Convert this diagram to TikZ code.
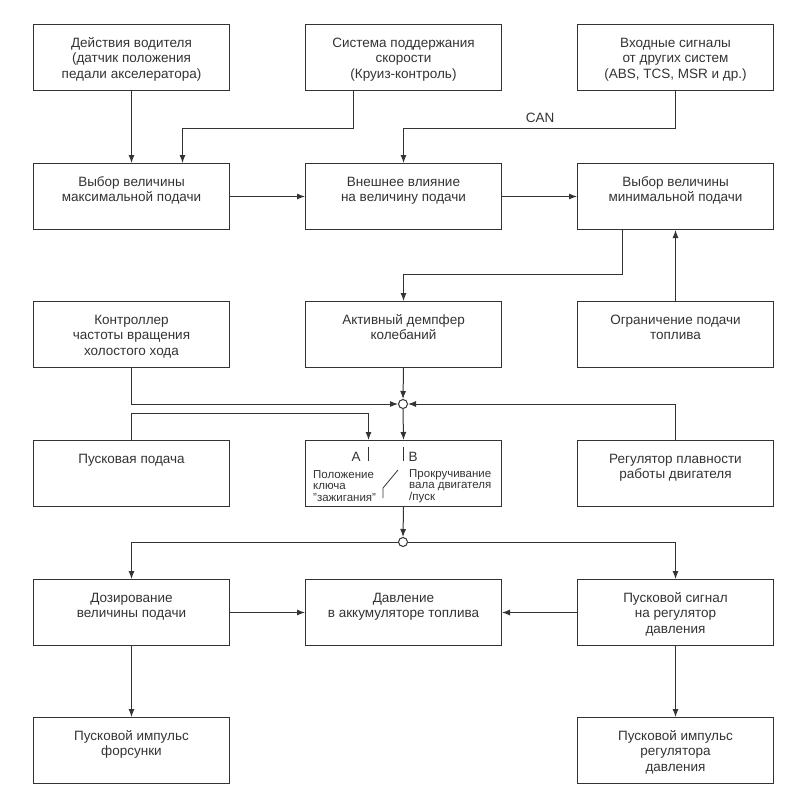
\documentclass[tikz,border=0pt]{standalone}
\usepackage{fontspec}
\setmainfont{Liberation Sans}
\usetikzlibrary{arrows.meta}
\definecolor{ink}{HTML}{333333}
\newcommand\bxtext[1]{\parbox[c][66pt][t]{196pt}{\centering\fontsize{13.5}{15.5}\selectfont\vspace*{12pt}\strut #1\par}}
\tikzset{
  box/.style={draw=ink, text=ink, line width=1pt, anchor=north west, inner sep=0pt, minimum width=196pt, minimum height=66pt},
  arr/.style={draw=ink, line width=1pt, -{Latex[length=8pt,width=6pt]}},
  ln/.style={draw=ink, line width=1pt},
  thin/.style={draw=ink, line width=0.8pt},
  junc/.style={circle, draw=ink, fill=white, line width=1pt, inner sep=0pt, minimum size=9pt},
  swl/.style={text=ink, anchor=west, align=left, inner sep=0pt, font=\fontsize{11.5}{11.5}\selectfont},
  lbl/.style={text=ink, inner sep=0pt, font=\fontsize{13.5}{15.5}\selectfont}
}
\begin{document}
\begin{tikzpicture}[x=1pt,y=-1pt]
\useasboundingbox (0,0) rectangle (794,808);
% row 1
\node[box] (b1) at (33,24) {\bxtext{Действия водителя\\(датчик положения\\педали акселератора)}};
\node[box] (b2) at (305,24) {\bxtext{Система поддержания\\скорости\\(Круиз-контроль)}};
\node[box] (b3) at (577,24) {\bxtext{Входные сигналы\\от других систем\\(ABS, TCS, MSR и др.)}};
% row 2
\node[box] (b4) at (33,163) {\bxtext{Выбор величины\\максимальной подачи}};
\node[box] (b5) at (305,163) {\bxtext{Внешнее влияние\\на величину подачи}};
\node[box] (b6) at (577,163) {\bxtext{Выбор величины\\минимальной подачи}};
% row 3
\node[box] (b7) at (33,301) {\bxtext{Контроллер\\частоты вращения\\холостого хода}};
\node[box] (b8) at (305,301) {\bxtext{Активный демпфер\\колебаний}};
\node[box] (b9) at (577,301) {\bxtext{Ограничение подачи\\топлива}};
% row 4
\node[box] (b10) at (33,440) {\bxtext{Пусковая подача}};
\node[box] (sw) at (305,440) {};
\node[box] (b11) at (577,440) {\bxtext{Регулятор плавности\\работы двигателя}};
% row 5
\node[box] (b12) at (33,579) {\bxtext{Дозирование\\величины подачи}};
\node[box] (b13) at (305,579) {\bxtext{Давление\\в аккумуляторе топлива}};
\node[box] (b14) at (577,579) {\bxtext{Пусковой сигнал\\на регулятор\\давления}};
% row 6
\node[box] (b15) at (33,717) {\bxtext{Пусковой импульс\\форсунки}};
\node[box] (b16) at (577,717) {\bxtext{Пусковой импульс\\регулятора\\давления}};
% junctions
\node[junc] (j1) at (403,404) {};
\node[junc] (j2) at (403,542) {};
% switch box content
\node[lbl] (la) at (356,457) {A};
\node[lbl] (lb) at (413,457) {B};
\coordinate (a1) at (368,447);
\coordinate (a2) at (368,461);
\coordinate (b1a) at (403,447);
\coordinate (b1b) at (403,461);
\draw[thin] (a1) -- (a2);
\draw[thin] (b1a) -- (b1b);
\coordinate (s1) at (383,498);
\coordinate (s2) at (383,488);
\coordinate (s3) at (398,470);
\draw[thin] (s1) -- (s2) -- (s3);
\node[swl] (tl) at (313,486) {Положение\\ключа\\"зажигания"};
\node[swl] (tr) at (409,486) {Прокручивание\\вала двигателя\\/пуск};
% connectors
\draw[arr] (b1.south) -- (b4.north);
\draw[arr] ([xshift=48pt]b2.south west) -- ++(0,37) -| ([xshift=51pt]b4.north);
\draw[arr] (b3.south) -- ++(0,37) -| (b5.north);
\node[lbl] (can) at (540,118) {CAN};
\draw[arr] (b4.east) -- (b5.west);
\draw[arr] (b5.east) -- (b6.west);
\draw[arr] ([xshift=-53pt]b6.south) -- ++(0,44) -| (b8.north);
\draw[arr] (b9.north) -- (b6.south);
\draw[arr] (b8.south) -- (j1.north);
\draw[arr] (b7.south) |- (j1.west);
\draw[arr] (b11.north) |- (j1.east);
\draw[arr] (b10.north) -- ++(0,-27) -| ([xshift=-35pt]sw.north);
\draw[arr] (j1.south) -- (sw.north);
\draw[arr] (sw.south) -- (j2.north);
\draw[arr] (j2.west) -| (b12.north);
\draw[arr] (j2.east) -| (b14.north);
\draw[arr] (b12.east) -- (b13.west);
\draw[arr] (b14.west) -- (b13.east);
\draw[arr] (b12.south) -- (b15.north);
\draw[arr] (b14.south) -- (b16.north);
\end{tikzpicture}
\end{document}
